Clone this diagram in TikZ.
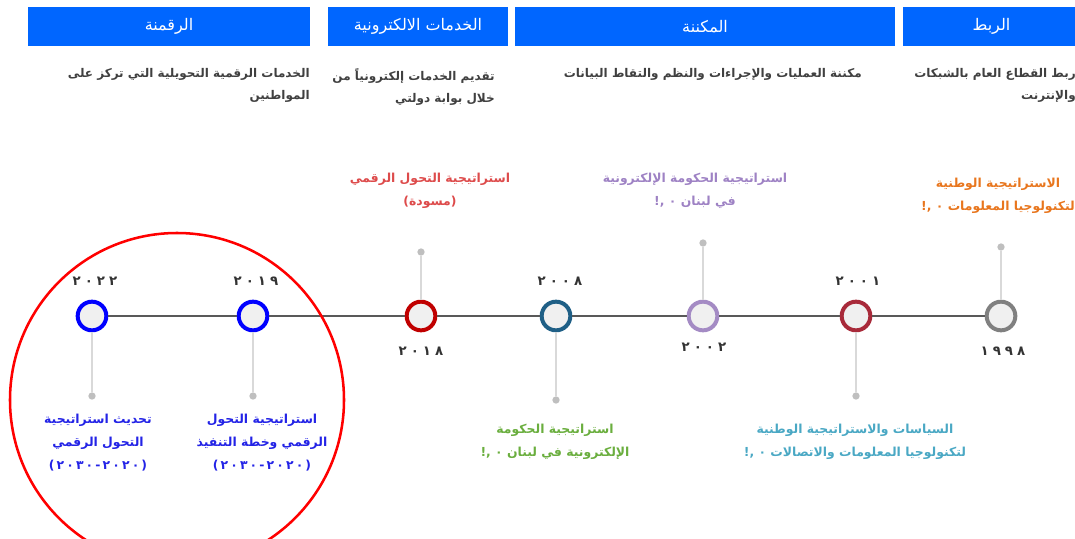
\documentclass[tikz,border=0pt]{standalone}
\usepackage{fontspec}
\newfontfamily\arabicfont[Script=Arabic]{DejaVu Sans}
\newfontfamily\yearfont[Script=Arabic,LetterSpace=30]{DejaVu Sans}
\TeXXeTstate=1
\newcommand{\stratspan}{)\kern1.6pt٢\kern1.6pt٠\kern1.6pt٣\kern1.6pt٠\kern1.6pt-\kern1.6pt٢\kern1.6pt٠\kern1.6pt٢\kern1.6pt٠\kern1.6pt(}
\definecolor{hdrblue}{HTML}{0066FF}
\definecolor{desctext}{HTML}{404040}
\definecolor{axisgray}{HTML}{595959}
\definecolor{stemgray}{HTML}{D9D9D9}
\definecolor{dotgray}{HTML}{BFBFBF}
\definecolor{ringfill}{HTML}{F0F0F0}
\definecolor{yeartext}{HTML}{333333}
\definecolor{ringblue}{HTML}{0000FF}
\definecolor{ringred}{HTML}{C00000}
\definecolor{ringteal}{HTML}{1F5F86}
\definecolor{ringlilac}{HTML}{A48BC4}
\definecolor{ringcrimson}{HTML}{A82A3A}
\definecolor{ringgray}{HTML}{808080}
\definecolor{txtred}{HTML}{DD4B4B}
\definecolor{txtlilac}{HTML}{9E82C4}
\definecolor{txtorange}{HTML}{E8761E}
\definecolor{txtgreen}{HTML}{6AAE3E}
\definecolor{txtcyan}{HTML}{4AA8C4}
\definecolor{txtblue}{HTML}{2323E6}
\definecolor{focusred}{HTML}{FF0000}
\begin{document}
\begin{tikzpicture}[x=0.75pt,y=-0.75pt,
  hdr/.style={fill=hdrblue,text=white,inner sep=0pt,minimum height=29.25pt,font=\arabicfont\fontsize{12}{14}\selectfont},
  desc/.style={text=desctext,align=right,inner sep=0pt,anchor=north east,font=\arabicfont\bfseries\fontsize{9}{16.5}\selectfont},
  ring/.style={circle,fill=ringfill,line width=3pt,minimum size=21.5pt,inner sep=0pt},
  stem/.style={stemgray,line width=0.8pt},
  tipdot/.style={circle,fill=dotgray,minimum size=5.5pt,inner sep=0pt},
  yearlbl/.style={font=\yearfont\bfseries\fontsize{10}{12}\selectfont,text=yeartext,inner sep=0pt},
  evt/.style={align=center,inner sep=0pt,font=\arabicfont\bfseries\fontsize{9.3}{17.25}\selectfont},
  axis/.style={axisgray,line width=2.2pt}]
\useasboundingbox (0,0) rectangle (1075,539);
\node[hdr,minimum width=211.5pt] (h1) at (169,26.5) {\beginR الرقمنة\endR};
\node[hdr,minimum width=135pt] (h2) at (418,26.5) {\beginR الخدمات الالكترونية\endR};
\node[hdr,minimum width=285pt] (h3) at (705,26.5) {\beginR المكننة\endR};
\node[hdr,minimum width=132.75pt] (h4) at (991.5,26.5) {\beginR الربط\endR};
\node[desc] (t1) at (310,68) {\beginR الخدمات الرقمية التحويلية التي تركز على\endR\\\beginR المواطنين\endR};
\node[desc] (t2) at (495,68) {\beginR تقديم الخدمات إلكترونياً من\endR\\\beginR خلال بوابة دولتي\endR};
\node[desc] (t3) at (862,68) {\beginR مكننة العمليات والإجراءات والنظم والتقاط البيانات\endR};
\node[desc] (t4) at (1076,68) {\beginR ربط القطاع العام بالشبكات\endR\\\beginR والإنترنت\endR};
\node[ring,draw=ringblue] (y2022) at (92,316) {};
\node[ring,draw=ringblue] (y2019) at (253,316) {};
\node[ring,draw=ringred] (y2018) at (421,316) {};
\node[ring,draw=ringteal] (y2008) at (556,316) {};
\node[ring,draw=ringlilac] (y2002) at (703,316) {};
\node[ring,draw=ringcrimson] (y2001) at (856,316) {};
\node[ring,draw=ringgray] (y1998) at (1001,316) {};
\draw[axis] (y2022) -- (y2019) -- (y2018) -- (y2008) -- (y2002) -- (y2001) -- (y1998);
\node[tipdot] (d2022) at (92,396) {};
\node[tipdot] (d2019) at (253,396) {};
\node[tipdot] (d2018) at (421,252) {};
\node[tipdot] (d2008) at (556,400) {};
\node[tipdot] (d2002) at (703,243) {};
\node[tipdot] (d2001) at (856,396) {};
\node[tipdot] (d1998) at (1001,247) {};
\draw[stem] (y2022) -- (d2022);
\draw[stem] (y2019) -- (d2019);
\draw[stem] (y2018) -- (d2018);
\draw[stem] (y2008) -- (d2008);
\draw[stem] (y2002) -- (d2002);
\draw[stem] (y2001) -- (d2001);
\draw[stem] (y1998) -- (d1998);
\node[yearlbl] (l2022) at (95,281) {٢٠٢٢};
\node[yearlbl] (l2019) at (256,281) {٢٠١٩};
\node[yearlbl] (l2018) at (421,351) {٢٠١٨};
\node[yearlbl] (l2008) at (560,281) {٢٠٠٨};
\node[yearlbl] (l2002) at (704,347) {٢٠٠٢};
\node[yearlbl] (l2001) at (858,281) {٢٠٠١};
\node[yearlbl] (l1998) at (1003,351) {١٩٩٨};
\node[evt,text=txtred] (e2018) at (430,190.5) {\beginR استراتيجية التحول الرقمي\endR\\\beginR(مسودة)\endR};
\node[evt,text=txtlilac] (e2002) at (695,191) {\beginR استراتيجية الحكومة الإلكترونية\endR\\\beginR في لبنان \beginL,!\ ٠\endL\endR};
\node[evt,text=txtorange] (e1998) at (998,196) {\beginR الاستراتيجية الوطنية\endR\\\beginR لتكنولوجيا المعلومات \beginL,!\ ٠\endL\endR};
\node[evt,text=txtblue] (e2022) at (98,443) {\beginR تحديث استراتيجية\endR\\\beginR التحول الرقمي\endR\\\stratspan};
\node[evt,text=txtblue] (e2019) at (262,443) {\beginR استراتيجية التحول\endR\\\beginR الرقمي وخطة التنفيذ\endR\\\stratspan};
\node[evt,text=txtgreen] (e2008) at (555,441.5) {\beginR استراتيجية الحكومة\endR\\\beginR الإلكترونية في لبنان \beginL,!\ ٠\endL\endR};
\node[evt,text=txtcyan] (e2001) at (855,441.5) {\beginR السياسات والاستراتيجية الوطنية\endR\\\beginR لتكنولوجيا المعلومات والاتصالات \beginL,!\ ٠\endL\endR};
\draw[focusred,line width=1.9pt] (177,400) circle [radius=125.25pt];
\end{tikzpicture}
\end{document}
